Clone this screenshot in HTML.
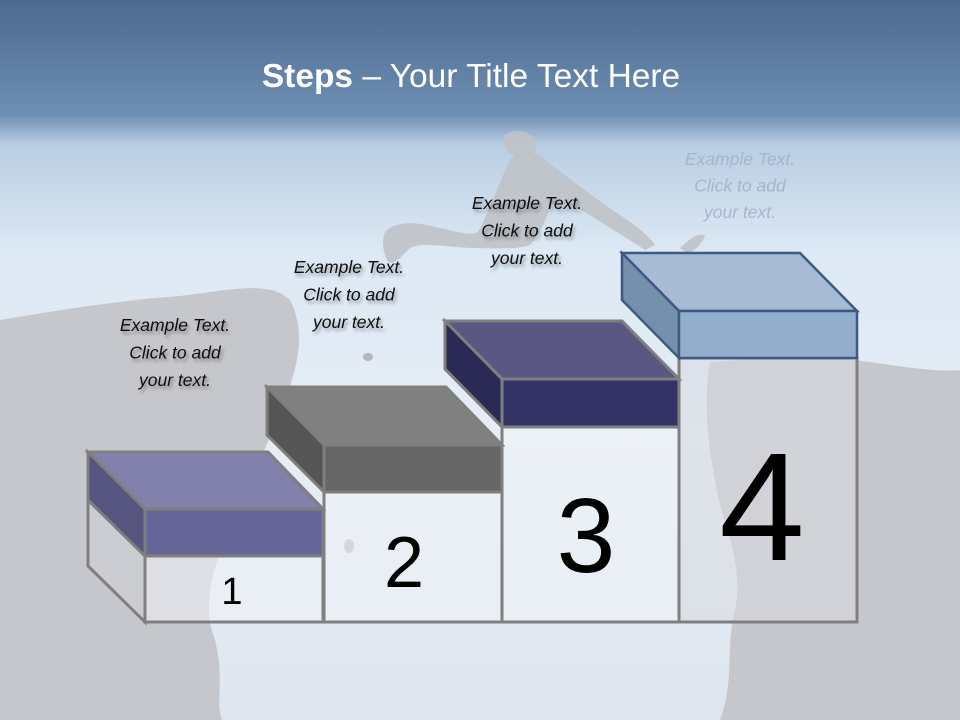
<!DOCTYPE html>
<html><head><meta charset="utf-8"><style>
html,body{margin:0;padding:0;width:960px;height:720px;overflow:hidden}
svg{display:block}
.t{font-family:"Liberation Sans",sans-serif;font-style:italic;font-size:17.5px;fill:#111;text-anchor:middle}
.n{font-family:"Liberation Sans",sans-serif;fill:#000;text-anchor:middle}
</style></head><body>
<svg width="960" height="720" viewBox="0 0 960 720" xmlns="http://www.w3.org/2000/svg">
<defs>
<linearGradient id="bg" x1="0" y1="0" x2="0" y2="1">
<stop offset="0" stop-color="#4c698f"/>
<stop offset="0.16" stop-color="#6e8fb5"/>
<stop offset="0.2" stop-color="#b9cde2"/>
<stop offset="0.35" stop-color="#dde9f5"/>
<stop offset="0.6" stop-color="#e6edf5"/>
<stop offset="1" stop-color="#dfe6ef"/>
</linearGradient>
<filter id="sh"><feDropShadow dx="2" dy="3" stdDeviation="1.5" flood-color="#000" flood-opacity="0.35"/></filter>
</defs>
<rect width="960" height="720" fill="url(#bg)"/>
<!-- silhouettes -->
<path d="M0,320 C60,310 120,300 180,296 C230,290 270,280 290,300 C305,330 300,360 285,400 C270,440 250,480 235,520 C215,560 200,600 215,640 C225,680 215,700 222,720 L0,720 Z" fill="#c5c7cc"/>
<path d="M710,362 C760,358 820,356 870,362 C910,368 940,372 960,370 L960,720 L720,720 C735,680 725,650 735,610 C745,560 720,520 715,480 C705,430 705,390 710,362 Z" fill="#c5c7cc"/>
<!-- runner -->
<g fill="#c0c3c9" opacity="0.9">
<path d="M385,232 C395,220 420,222 440,228 C460,232 470,236 478,232 C490,210 500,180 510,160 C520,148 535,150 545,160 C565,175 590,195 620,215 C640,228 650,238 655,245 L645,250 C630,240 605,225 585,212 C570,205 560,200 552,204 C545,220 540,235 530,245 C515,250 490,248 470,248 C440,246 420,242 410,248 C400,258 395,265 388,262 C382,250 382,240 385,232 Z"/>
<path d="M505,135 C515,128 528,130 535,140 C540,150 530,160 520,158 C508,155 500,145 505,135 Z"/>
<path d="M680,248 C690,238 700,232 705,236 C702,244 695,250 688,254 Z"/>
</g>
<ellipse cx="368" cy="357" rx="5" ry="4" fill="#b5b7bc"/>
<ellipse cx="349" cy="546" rx="5" ry="7" fill="#b5b7bc"/>
<!-- title -->
<text x="471" y="87" font-family="Liberation Sans,sans-serif" font-size="33.5" fill="#fff" text-anchor="middle"><tspan font-weight="bold">Steps</tspan> – Your Title Text Here</text>
<!-- columns -->
<g stroke="#7f7f7f" stroke-width="3" fill="#f0f3f8" fill-opacity="0.55">
<path d="M88,500 L145,556 L145,622 L88,566 Z" fill="#cfd2d7"/>
<rect x="145" y="556" width="178" height="66"/>
<rect x="324" y="492" width="178" height="130"/>
<rect x="502" y="427" width="177" height="195"/>
<rect x="679" y="358" width="178" height="264" fill="#d8dbe0"/>
</g>
<!-- box 1 -->
<g stroke="#7f7f7f" stroke-width="3">
<polygon points="88,452 268,452 323,509 145,509" fill="#8281ab"/>
<polygon points="88,452 145,509 145,556 88,500" fill="#55557f"/>
<rect x="145" y="509" width="178" height="47" fill="#666699"/>
</g>
<!-- box 2 -->
<g stroke="#7f7f7f" stroke-width="3">
<polygon points="267,387 446,387 502,445 324,445" fill="#808080"/>
<polygon points="267,387 324,445 324,492 267,435" fill="#555555"/>
<rect x="324" y="445" width="178" height="47" fill="#666666"/>
</g>
<!-- box 3 -->
<g stroke="#7f7f7f" stroke-width="3">
<polygon points="445,321 622,321 679,379 502,379" fill="#5a5782"/>
<polygon points="445,321 502,379 502,427 445,369" fill="#2b2a55"/>
<rect x="502" y="379" width="177" height="48" fill="#333366"/>
</g>
<!-- box 4 -->
<g stroke="#3d5a80" stroke-width="2.5">
<polygon points="622,253 800,253 857,311 679,311" fill="#a7bbd5"/>
<polygon points="622,253 679,311 679,358 622,300" fill="#7590ad"/>
<rect x="679" y="311" width="178" height="47" fill="#93aecd"/>
</g>
<!-- numbers -->
<text class="n" x="232" y="604" font-size="38">1</text>
<text class="n" x="404" y="587" font-size="72">2</text>
<text class="n" x="586" y="572" font-size="106">3</text>
<text class="n" x="762" y="560" font-size="154">4</text>
<!-- labels -->
<g filter="url(#sh)">
<text class="t" x="175" y="331">Example Text.<tspan x="175" dy="27.5">Click  to add</tspan><tspan x="175" dy="27.5">your text.</tspan></text>
<text class="t" x="349" y="273">Example Text.<tspan x="349" dy="27.5">Click  to add</tspan><tspan x="349" dy="27.5">your text.</tspan></text>
<text class="t" x="527" y="209">Example Text.<tspan x="527" dy="27.5">Click  to add</tspan><tspan x="527" dy="27.5">your text.</tspan></text>
</g>
<text class="t" x="740" y="165" style="fill:#a3b4cd" opacity="0.95">Example Text.<tspan x="740" dy="26.5">Click  to add</tspan><tspan x="740" dy="26.5">your text.</tspan></text>
</svg>
</body></html>
